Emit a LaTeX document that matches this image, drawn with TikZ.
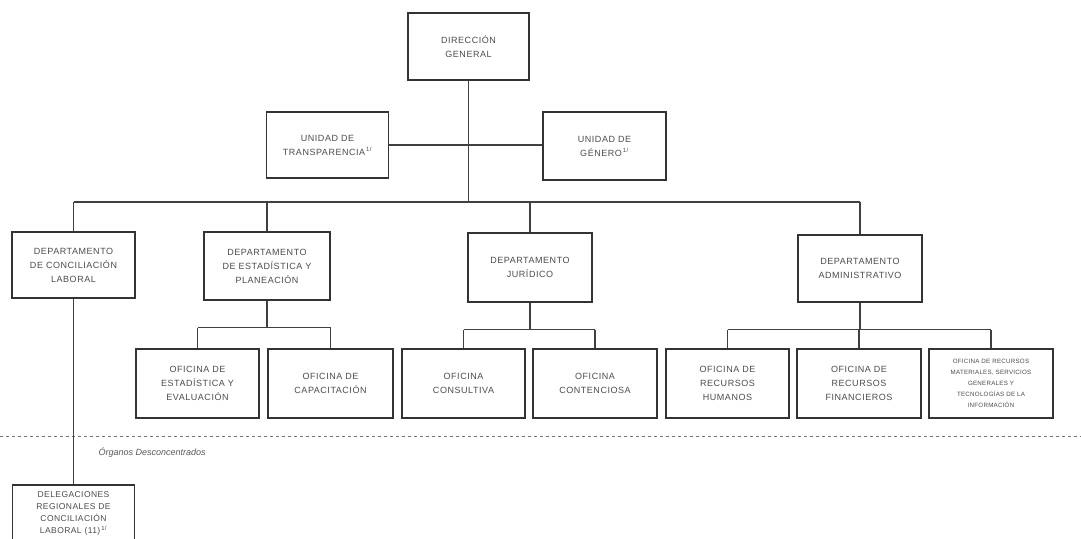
\documentclass[tikz,border=0pt]{standalone}
\usepackage{fontspec}
\setmainfont{Liberation Sans}
\usetikzlibrary{positioning}
\tikzset{unitbox/.style={draw=black!80, line width=1.6pt, fill=white, text=black!70, align=center, font=\fontsize{9}{14}\selectfont\addfontfeatures{LetterSpace=6}, minimum width=122pt, minimum height=67pt, inner sep=2pt}}
\tikzset{officebox/.style={unitbox, minimum width=123pt, minimum height=69pt}}
\tikzset{link/.style={draw=black!75, line width=1.3pt}}
\tikzset{sepline/.style={draw=black!55, line width=1pt, dash pattern=on 3pt off 3pt}}
\newcommand{\notaref}{\textsuperscript{\,1/}}

\begin{document}
\begin{tikzpicture}[x=1pt,y=-1pt]
	\useasboundingbox[fill=white] (0,0) rectangle (1081,538);
	% rails
	\coordinate (top rail) at (0,202);
	\coordinate (cut) at (0,436);
	\coordinate (cut end) at (1081,436);

	\node[unitbox, minimum width=121pt] (dg) at (468.5,46.5) {DIRECCIÓN\\GENERAL};
	\node[unitbox, minimum height=66pt] (ut) at (327.5,145) {UNIDAD DE\\TRANSPARENCIA\notaref};
	\node[unitbox, minimum width=123pt, minimum height=68pt] (ug) at (604.5,146) {UNIDAD DE\\GÉNERO\notaref};

	\node[unitbox, minimum width=123pt, minimum height=66pt] (dcl) at (73.5,265) {DEPARTAMENTO\\DE CONCILIACIÓN\\LABORAL};
	\node[unitbox, minimum width=126pt, minimum height=68pt] (dep) at (267,266) {DEPARTAMENTO\\DE ESTADÍSTICA Y\\PLANEACIÓN};
	\node[unitbox, minimum width=124pt, minimum height=69pt] (dj) at (530,267.5) {DEPARTAMENTO\\JURÍDICO};
	\node[unitbox, minimum width=124pt] (da) at (860,268.5) {DEPARTAMENTO\\ADMINISTRATIVO};

	\node[officebox] (oee) at (197.5,383.5) {OFICINA DE\\ESTADÍSTICA Y\\EVALUACIÓN};
	\node[officebox, minimum width=125pt] (ocap) at (330.5,383.5) {OFICINA DE\\CAPACITACIÓN};
	\node[officebox] (ocon) at (463.5,383.5) {OFICINA\\CONSULTIVA};
	\node[officebox, minimum width=124pt] (octe) at (595,383.5) {OFICINA\\CONTENCIOSA};
	\node[officebox] (orh) at (727.5,383.5) {OFICINA DE\\RECURSOS\\HUMANOS};
	\node[officebox, minimum width=124pt] (orf) at (859,383.5) {OFICINA DE\\RECURSOS\\FINANCIEROS};
	\node[officebox, minimum width=124pt, font=\fontsize{6.2}{11}\selectfont\addfontfeatures{LetterSpace=4}] (orm) at (991,383.5) {OFICINA DE RECURSOS\\MATERIALES, SERVICIOS\\GENERALES Y\\TECNOLOGÍAS DE LA\\INFORMACIÓN};

	\node[unitbox, minimum height=0pt, anchor=north, inner ysep=7pt, text depth=14pt, font=\fontsize{8.5}{12}\selectfont\addfontfeatures{LetterSpace=5}] (del) at (73.5,484) {DELEGACIONES\\REGIONALES DE\\CONCILIACIÓN\\LABORAL (11)\notaref};

	% direccion y unidades
	\draw[link] (dg.south) -- (dg |- top rail);
	\draw[link] (ut.east) -- (ut.east -| ug.west);
	\draw[link] (dcl.north |- top rail) -- (da.north |- top rail);
	\foreach \d in {dcl,dep,dj,da}
		\draw[link] (\d.north |- top rail) -- (\d.north);

	% oficinas
	\draw[link] (dep.south) -- ++(0,27) coordinate (ep);
	\draw[link] (oee.north |- ep) -- (ocap.north |- ep);
	\draw[link] (oee.north |- ep) -- (oee.north);
	\draw[link] (ocap.north |- ep) -- (ocap.north);

	\draw[link] (dj.south) -- ++(0,27) coordinate (jp);
	\draw[link] (ocon.north |- jp) -- (octe.north |- jp);
	\draw[link] (ocon.north |- jp) -- (ocon.north);
	\draw[link] (octe.north |- jp) -- (octe.north);

	\draw[link] (da.south) -- ++(0,27) coordinate (ap);
	\draw[link] (orh.north |- ap) -- (orm.north |- ap);
	\foreach \o in {orh,orf,orm}
		\draw[link] (\o.north |- ap) -- (\o.north);

	% desconcentrados
	\draw[sepline] (cut) -- (cut end);
	\draw[link] (dcl.south) -- (del.north);
	\node[anchor=west, text=black!65, font=\itshape\fontsize{9}{11}\selectfont] (org) at (95,453) {Órganos Desconcentrados};
\end{tikzpicture}
\end{document}
